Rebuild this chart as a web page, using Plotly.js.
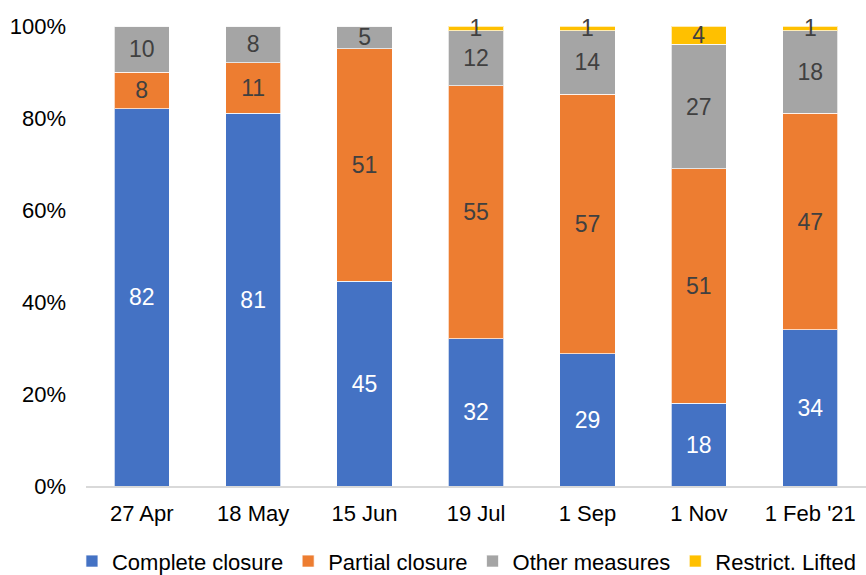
<!DOCTYPE html>
<html>
<head>
<meta charset="utf-8">
<script src="https://cdn.plot.ly/plotly-3.0.1.min.js"></script>
<style>html,body{margin:0;padding:0;background:#fff;}#chart{width:866px;height:575px;}</style>
</head>
<body>
<div id="chart"></div>
<script>
const categories = ["27 Apr", "18 May", "15 Jun", "19 Jul", "1 Sep", "1 Nov", "1 Feb '21"];
const completeClosure = [82, 81, 45, 32, 29, 18, 34];
const partialClosure = [8, 11, 51, 55, 57, 51, 47];
const otherMeasures = [10, 8, 5, 12, 14, 27, 18];
const restrictLifted = [0, 0, 0, 1, 1, 4, 1];
const seriesNames = ["Complete closure", "Partial closure", "Other measures", "Restrict. Lifted"];
const yTickVals = [0, 20, 40, 60, 80, 100];

const colors = ["#4472C4", "#ED7D31", "#A5A5A5", "#FFC000"];
const textColors = ["#FFFFFF", "#404040", "#404040", "#404040"];
const FONT = "Liberation Sans, Arial, sans-serif";

const allSeries = [completeClosure, partialClosure, otherMeasures, restrictLifted];
const traces = allSeries.map((vals, i) => ({
  type: "bar",
  name: seriesNames[i],
  x: categories,
  y: vals,
  text: vals.map(v => v > 0 ? String(v) : ""),
  texttemplate: "%{text}",
  textposition: "inside",
  insidetextanchor: "middle",
  textangle: 0,
  constraintext: "none",
  cliponaxis: false,
  textfont: {family: FONT, size: 23, color: textColors[i]},
  insidetextfont: {family: FONT, size: 23, color: textColors[i]},
  marker: {color: colors[i], line: {color: "rgba(255,255,255,0.7)", width: 1}},
  hoverinfo: "name+y"
}));

const layout = {
  width: 866, height: 575,
  margin: {l: 86, r: 0, t: 26, b: 89, autoexpand: false},
  paper_bgcolor: "#fff", plot_bgcolor: "#fff",
  barmode: "stack",
  barnorm: "percent",
  bargap: 0.505,
  uniformtext: {mode: "show", minsize: 23},
  font: {family: FONT, size: 22, color: "#000"},
  showlegend: true,
  legend: {
    orientation: "h", x: -0.018, xanchor: "left", y: -0.118, yanchor: "top",
    traceorder: "normal", font: {family: FONT, size: 22, color: "#000"},
    itemwidth: 30
  },
  xaxis: {
    type: "category",
    showgrid: false, zeroline: false,
    showline: true, linecolor: "#D9D9D9", linewidth: 1.5,
    ticks: "", ticklabelstandoff: 7,
    tickfont: {family: FONT, size: 22, color: "#000"}
  },
  yaxis: {
    range: [0, 100],
    tickvals: yTickVals,
    ticktext: yTickVals.map(v => v + "%"),
    showgrid: false, zeroline: false, showline: false,
    ticks: "", ticklabelstandoff: 19,
    tickfont: {family: FONT, size: 22, color: "#000"}
  }
};

Plotly.newPlot("chart", traces, layout, {displayModeBar: false, staticPlot: true});
</script>
</body>
</html>
